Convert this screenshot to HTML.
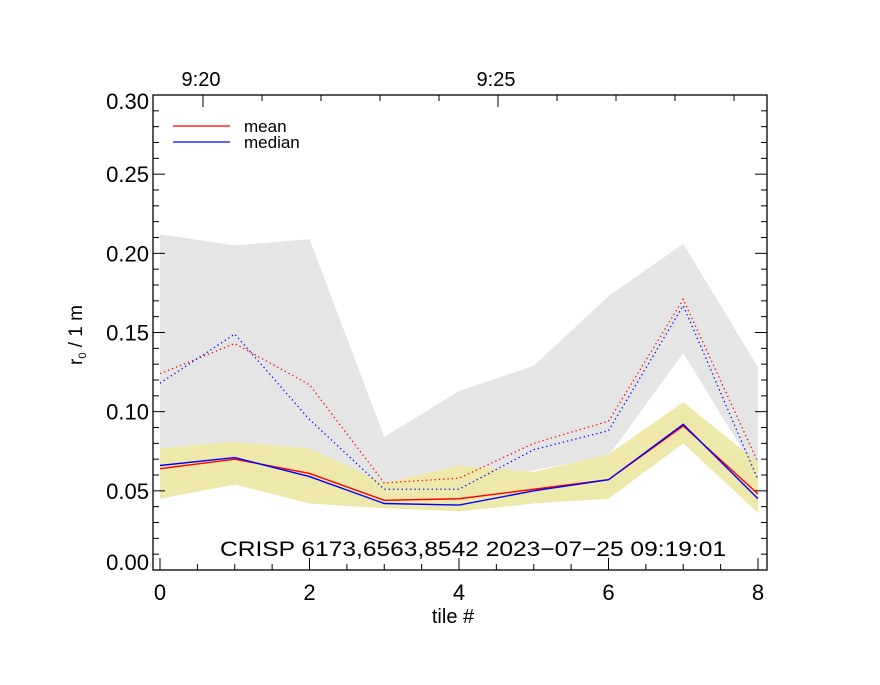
<!DOCTYPE html>
<html><head><meta charset="utf-8"><style>
body{margin:0;background:#fff}
text{font-family:"Liberation Sans",sans-serif}
</style></head><body>
<svg id="chart" width="880" height="680" xmlns="http://www.w3.org/2000/svg">
<rect width="880" height="680" fill="#fff"/>
<g id="bands"></g><g id="lines"></g><g id="axes"></g>
</svg>
<script>
const tiles=[0,1,2,3,4,5,6,7,8];
const grayHi=[0.212,0.205,0.209,0.084,0.113,0.129,0.173,0.206,0.128];
const grayLo=[0.050,0.060,0.050,0.045,0.055,0.063,0.072,0.137,0.060];
const yelHi=[0.077,0.081,0.077,0.055,0.066,0.062,0.073,0.106,0.068];
const yelLo=[0.045,0.054,0.042,0.039,0.037,0.042,0.045,0.080,0.036];
const meanVals=[0.064,0.070,0.061,0.044,0.045,0.051,0.057,0.091,0.048];
const medianVals=[0.066,0.071,0.059,0.042,0.041,0.050,0.057,0.092,0.045];
const meanDot=[0.124,0.143,0.117,0.055,0.058,0.080,0.094,0.171,0.068];
const medianDot=[0.118,0.149,0.095,0.051,0.051,0.076,0.088,0.167,0.057];
const yTicks=["0.00","0.05","0.10","0.15","0.20","0.25","0.30"];
const xTicks=["0","2","4","6","8"];
const topTicks=["9:20","9:25"];
const NS="http://www.w3.org/2000/svg";
const L=153,R=767,T=95,B=570;
const X=v=>160+v*74.75, Y=v=>B-(v/0.30)*(B-T);
function mk(p,tag,a){const e=document.createElementNS(NS,tag);for(const k in a)e.setAttribute(k,a[k]);p.appendChild(e);return e;}
const bands=document.getElementById('bands'),lines=document.getElementById('lines'),axes=document.getElementById('axes');
function band(hi,lo,fill,name){
 const pts=tiles.map((t,i)=>X(t)+','+Y(hi[i])).concat(tiles.slice().reverse().map((t,j)=>X(t)+','+Y(lo[tiles.length-1-j])));
 const e=mk(bands,'polygon',{points:pts.join(' '),fill:fill});
 
 
}
band(grayHi,grayLo,'#e5e5e5','gray-range-band');
band(yelHi,yelLo,'#eee8aa','yellow-range-band');
function line(vals,col,dash,name){
 const e=mk(lines,'polyline',{points:tiles.map((t,i)=>X(t)+','+Y(vals[i])).join(' '),fill:'none',stroke:col,'stroke-width':dash?1.3:1.4,'stroke-dasharray':dash?'1.3 3':'none'});
 
 
}
line(meanDot,'#f00',true,'mean-dotted-line');
line(medianDot,'#00f',true,'median-dotted-line');
line(meanVals,'#f00',false,'mean-line');
line(medianVals,'#00f',false,'median-line');
const box=mk(axes,'rect',{x:L,y:T,width:R-L,height:B-T,fill:'none',stroke:'#000','stroke-width':1.3});


for(let i=0;i<=30;i++){const v=i*0.01,y=Y(v),len=i%5==0?12:6;
 mk(axes,'line',{x1:L,x2:L+len,y1:y,y2:y,stroke:'#000'});mk(axes,'line',{x1:R,x2:R-len,y1:y,y2:y,stroke:'#000'});}
yTicks.forEach(s=>{const c=Math.min(562,Math.max(101,Y(+s)));
 const t=mk(axes,'text',{x:149,y:c+8,'text-anchor':'end','font-size':22});t.textContent=s;
 
 });
for(let i=0;i<=16;i++){const v=i*0.5,x=X(v),len=i%4==0?12:6;mk(axes,'line',{x1:x,x2:x,y1:B,y2:B-len,stroke:'#000'});}
xTicks.forEach(s=>{const t=mk(axes,'text',{x:X(+s),y:600,'text-anchor':'middle','font-size':22});t.textContent=s;
 
 });
for(let m=0;m<=9;m++){const x=203+m*59;if(x>R)break;const len=m%5==0?12:6;mk(axes,'line',{x1:x,x2:x,y1:T,y2:T+len,stroke:'#000'});}
topTicks.forEach((s,i)=>{const t=mk(axes,'text',{x:201+i*5*59,y:86,'text-anchor':'middle','font-size':20});t.textContent=s;
 
 });
</script>
<svg style="position:absolute;left:0;top:0" width="880" height="680" xmlns="http://www.w3.org/2000/svg">
<g>
<line x1="173" y1="126" x2="230" y2="126" stroke="#f00" stroke-width="1.3"/>
<text x="244" y="132" font-size="17">mean</text>
<line x1="173" y1="142" x2="230" y2="142" stroke="#00f" stroke-width="1.3"/>
<text x="244" y="148" font-size="17">median</text>
</g>
<text x="220" y="556" font-size="21" textLength="506" lengthAdjust="spacingAndGlyphs">CRISP 6173,6563,8542 2023−07−25 09:19:01</text>
<text x="453" y="623" text-anchor="middle" font-size="20">tile #</text>
<text transform="translate(82,335) rotate(-90)" text-anchor="middle" font-size="19">r<tspan font-size="11" dy="4">0</tspan><tspan dy="-4"> / 1 m</tspan></text>
</svg>
</body></html>
